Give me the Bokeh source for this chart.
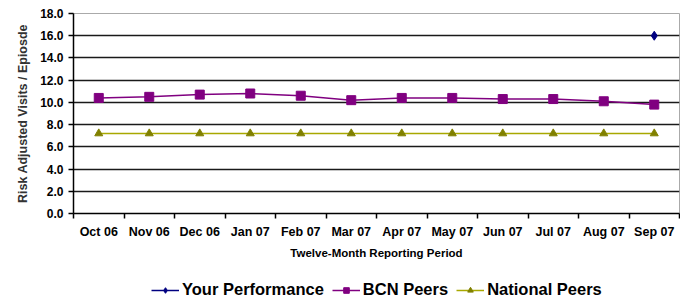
import math
from bokeh.plotting import figure
from bokeh.layouts import column
from bokeh.models import (ColumnDataSource, FixedTicker, LinearAxis, Legend, LegendItem,
                          NumeralTickFormatter, Range1d)
from bokeh.embed import file_html
from bokeh.resources import INLINE

months = ["Oct 06", "Nov 06", "Dec 06", "Jan 07", "Feb 07", "Mar 07",
          "Apr 07", "May 07", "Jun 07", "Jul 07", "Aug 07", "Sep 07"]
your_perf = [math.nan] * 11 + [16.0]
bcn_peers = [10.4, 10.5, 10.7, 10.8, 10.6, 10.2, 10.4, 10.4, 10.3, 10.3, 10.1, 9.8]
national_peers = [7.2] * 12
y_ticks = [0, 2, 4, 6, 8, 10, 12, 14, 16, 18]
series_names = ["Your Performance", "BCN Peers", "National Peers"]

xpos = [i + 0.5 for i in range(len(months))]
src = ColumnDataSource(dict(x=xpos, your=your_perf, bcn=bcn_peers, nat=national_peers))

FONT = "Liberation Sans"
BLUE = "#000080"
PURPLE = "#800080"
OLIVE_L = "#a8a800"
OLIVE_M = "#808000"

p = figure(width=680, height=268, output_backend="svg", toolbar_location=None,
           x_range=Range1d(0, len(months)), y_range=Range1d(0, 18),
           x_axis_type=None, min_border_left=73, min_border_right=1,
           min_border_top=13, min_border_bottom=55)
p.outline_line_color = "#aaaaaa"
p.background_fill_color = "white"
p.border_fill_color = "white"

# x axis: labels at category centres, tick marks at category boundaries
xaxis = LinearAxis(ticker=FixedTicker(ticks=xpos, minor_ticks=list(range(len(months) + 1))))
xaxis.major_label_overrides = {x: m for x, m in zip(xpos, months)}
xaxis.major_tick_out = 0
xaxis.major_tick_in = 0
xaxis.minor_tick_out = 5
xaxis.minor_tick_in = 0
xaxis.minor_tick_line_color = "black"
xaxis.minor_tick_line_width = 1.5
xaxis.axis_line_color = "black"
xaxis.axis_line_width = 1.5
xaxis.major_label_standoff = 6
xaxis.major_label_text_font = FONT
xaxis.major_label_text_font_style = "bold"
xaxis.major_label_text_font_size = "12.5px"
xaxis.major_label_text_color = "black"
xaxis.axis_label = "Twelve-Month Reporting Period"
xaxis.axis_label_text_font = FONT
xaxis.axis_label_text_font_style = "bold"
xaxis.axis_label_text_font_size = "11.5px"
xaxis.axis_label_standoff = 5
xaxis.axis_label_text_color = "black"
p.add_layout(xaxis, "below")

ya = p.yaxis[0]
ya.ticker = FixedTicker(ticks=y_ticks)
ya.formatter = NumeralTickFormatter(format="0.0")
ya.minor_tick_line_color = None
ya.major_tick_out = 5
ya.major_tick_in = 0
ya.major_tick_line_color = "black"
ya.major_tick_line_width = 1.5
ya.axis_line_color = "black"
ya.axis_line_width = 1.5
ya.major_label_standoff = 5
ya.major_label_text_font = FONT
ya.major_label_text_font_style = "bold"
ya.major_label_text_font_size = "12px"
ya.major_label_text_color = "black"
ya.axis_label = "Risk Adjusted Visits / Epiosde"
ya.axis_label_text_font = FONT
ya.axis_label_text_font_style = "bold"
ya.axis_label_text_font_size = "12.5px"
ya.axis_label_standoff = 7
ya.axis_label_text_color = "#333333"

p.xgrid.grid_line_color = None
p.ygrid.ticker = FixedTicker(ticks=y_ticks[1:])
p.ygrid.grid_line_color = "#1a1a1a"
p.ygrid.grid_line_width = 1.4

p.line("x", "your", source=src, line_color=BLUE, line_width=1.5)
p.scatter("x", "your", source=src, marker="diamond", size=9,
          fill_color=BLUE, line_color=BLUE)
p.line("x", "bcn", source=src, line_color=PURPLE, line_width=1.5)
p.scatter("x", "bcn", source=src, marker="square", size=9,
          fill_color=PURPLE, line_color=PURPLE)
p.line("x", "nat", source=src, line_color=OLIVE_L, line_width=1.5)
p.scatter("x", "nat", source=src, marker="triangle", size=8,
          fill_color=OLIVE_M, line_color=OLIVE_M)

# legend row (separate strip below the chart); its glyph sources lie outside the view
lf = figure(width=680, height=32, output_backend="svg", toolbar_location=None,
            x_axis_type=None, y_axis_type=None, min_border=0,
            x_range=Range1d(0, 1), y_range=Range1d(0, 1))
lf.outline_line_color = None
lf.xgrid.grid_line_color = None
lf.ygrid.grid_line_color = None
offview = ColumnDataSource(dict(x=[-10.0, -9.0], y=[-10.0, -10.0]))
items = []
for name, col_l, col_m, mk, sz in [(series_names[0], BLUE, BLUE, "diamond", 7),
                                   (series_names[1], PURPLE, PURPLE, "square", 7),
                                   (series_names[2], OLIVE_L, OLIVE_M, "triangle", 7)]:
    rl = lf.line("x", "y", source=offview, line_color=col_l, line_width=1.5)
    rm = lf.scatter("x", "y", source=offview, marker=mk, size=sz,
                    fill_color=col_m, line_color=col_m)
    items.append(LegendItem(label=name, renderers=[rl, rm], index=0))

legend = Legend(items=items, orientation="horizontal", location=(78, 1),
                border_line_color=None, background_fill_alpha=0,
                label_text_font=FONT, label_text_font_style="bold",
                label_text_font_size="16.5px", label_text_color="black",
                glyph_width=28, glyph_height=14, label_standoff=3, spacing=8,
                padding=0, margin=0)
lf.add_layout(legend, "center")

open("out.html", "w").write(file_html(column(p, lf), INLINE))
